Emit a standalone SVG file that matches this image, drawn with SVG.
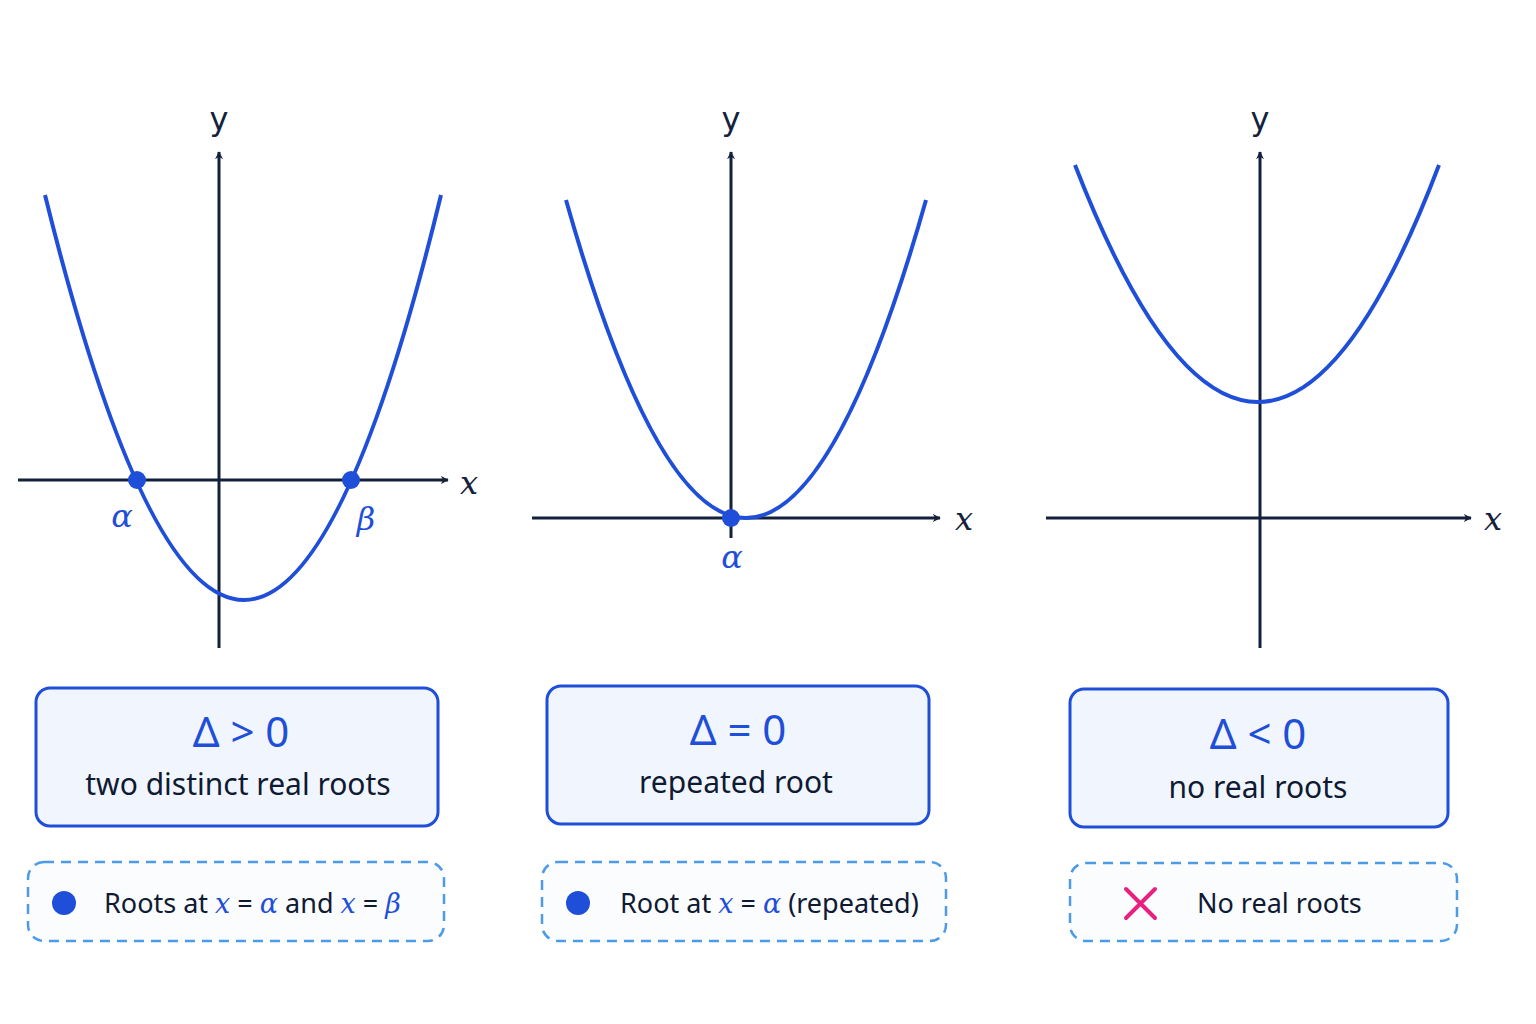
<svg xmlns="http://www.w3.org/2000/svg" width="1536" height="1024" viewBox="0 0 1536 1024">
<defs>
<marker id="ar" viewBox="0 0 10 10" refX="9" refY="5" markerWidth="8" markerHeight="8" markerUnits="userSpaceOnUse" orient="auto"><path d="M0,0 L10,5 L0,10 L3,5 z" fill="#14213d"/></marker>
</defs>
<style>
.ax{stroke:#14213d;stroke-width:3;fill:none}
.cv{stroke:#1f4fd8;stroke-width:4;fill:none}
.box{fill:#f1f6fe;stroke:#1f4fd8;stroke-width:3}
.dbox{fill:#fbfcfe;stroke:#4b9be8;stroke-width:2.5;stroke-dasharray:10 7}
.t{font-family:"Noto Sans","Open Sans",sans-serif;fill:#0f1a33}
.big{font-family:"Noto Sans",sans-serif;font-size:42px;fill:#1f4fd8}
.sub{font-size:30px}
.lab{font-size:27px}
.m{font-family:"DejaVu Serif","Liberation Serif",serif;font-style:italic;fill:#1f4fd8}
.ax-l{font-family:"DejaVu Sans",sans-serif;font-size:32px;fill:#14213d}
</style>
<rect width="1536" height="1024" fill="#ffffff"/>
<g id="connectors">
<line class="ax" x1="18" y1="480" x2="448" y2="480" marker-end="url(#ar)"/>
<line class="ax" x1="219" y1="648" x2="219" y2="152" marker-end="url(#ar)"/>
<line class="ax" x1="532" y1="518" x2="940" y2="518" marker-end="url(#ar)"/>
<line class="ax" x1="731" y1="538" x2="731" y2="152" marker-end="url(#ar)"/>
<line class="ax" x1="1046" y1="518" x2="1471" y2="518" marker-end="url(#ar)"/>
<line class="ax" x1="1260" y1="648" x2="1260" y2="152" marker-end="url(#ar)"/>
</g>
<g id="graph1">
<path class="cv" d="M45,195 Q245,1005 441,195"/>
<circle cx="137" cy="480" r="9" fill="#1f4fd8"/>
<circle cx="351" cy="480" r="9" fill="#1f4fd8"/>
<text class="ax-l" x="219" y="130" text-anchor="middle">y</text>
<text class="m" x="460" y="494" font-size="32" fill="#14213d" style="fill:#14213d">x</text>
<text class="m" x="122" y="527" font-size="32" text-anchor="middle">α</text>
<text class="m" x="366" y="530" font-size="32" text-anchor="middle">β</text>
</g>
<g id="graph2">
<path class="cv" d="M566,200 Q746,836 926,200"/>
<circle cx="731" cy="518" r="9" fill="#1f4fd8"/>
<text class="ax-l" x="731" y="130" text-anchor="middle">y</text>
<text class="m" x="955" y="530" font-size="32" style="fill:#14213d">x</text>
<text class="m" x="732" y="568" font-size="32" text-anchor="middle">α</text>
</g>
<g id="graph3">
<path class="cv" d="M1075,165 Q1259,639 1439,165"/>
<text class="ax-l" x="1260" y="130" text-anchor="middle">y</text>
<text class="m" x="1484" y="530" font-size="32" style="fill:#14213d">x</text>
</g>
<g id="box1">
<rect class="box" x="36" y="688" width="402" height="138" rx="14"/>
<text class="big" x="241" y="747" text-anchor="middle">Δ &gt; 0</text>
<text class="t sub" x="238" y="795" text-anchor="middle">two distinct real roots</text>
</g>
<g id="box2">
<rect class="box" x="547" y="686" width="382" height="138" rx="14"/>
<text class="big" x="738" y="745" text-anchor="middle">Δ = 0</text>
<text class="t sub" x="736" y="793" text-anchor="middle">repeated root</text>
</g>
<g id="box3">
<rect class="box" x="1070" y="689" width="378" height="138" rx="14"/>
<text class="big" x="1258" y="749" text-anchor="middle">Δ &lt; 0</text>
<text class="t sub" x="1258" y="798" text-anchor="middle">no real roots</text>
</g>
<g id="note1">
<rect class="dbox" x="28" y="862" width="416" height="79" rx="16"/>
<circle cx="64" cy="903" r="12" fill="#1f4fd8"/>
<text class="t lab" x="104" y="913">Roots at <tspan class="m">x</tspan> = <tspan class="m">α</tspan> and <tspan class="m">x</tspan> = <tspan class="m">β</tspan></text>
</g>
<g id="note2">
<rect class="dbox" x="542" y="862" width="404" height="79" rx="16"/>
<circle cx="578" cy="903" r="12" fill="#1f4fd8"/>
<text class="t lab" x="620" y="913">Root at <tspan class="m">x</tspan> = <tspan class="m">α</tspan>  (repeated)</text>
</g>
<g id="note3">
<rect class="dbox" x="1070" y="863" width="387" height="78" rx="16"/>
<path d="M1126,889 L1155,918 M1155,889 L1126,918" stroke="#e6217f" stroke-width="4" stroke-linecap="round"/>
<text class="t lab" x="1197" y="913">No real roots</text>
</g>
</svg>
